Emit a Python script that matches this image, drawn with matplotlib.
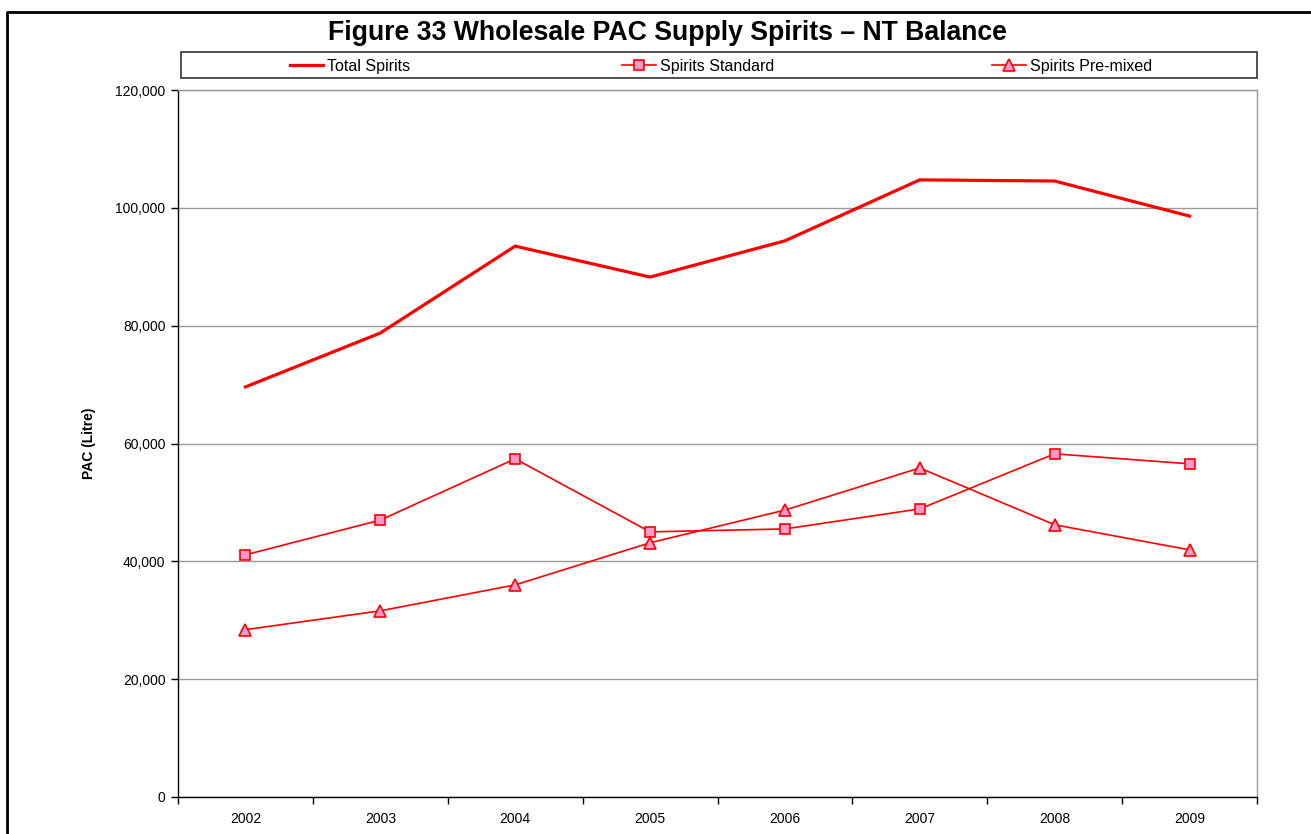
import matplotlib.pyplot as plt
from matplotlib.patches import Rectangle
from matplotlib.lines import Line2D

plt.rcParams['font.family'] = ['Liberation Sans', 'DejaVu Sans']

# Wholesale PAC supply, litres
years = ['2002', '2003', '2004', '2005', '2006', '2007', '2008', '2009']
total_spirits = [69600, 78750, 93500, 88250, 94400, 104750, 104550, 98600]
spirits_standard = [41100, 47000, 57400, 45000, 45500, 48900, 58250, 56550]
spirits_premixed = [28400, 31600, 36000, 43150, 48700, 55850, 46200, 41950]

RED = '#FF0000'
PINK = '#FF99CC'

fig = plt.figure(figsize=(13.11, 8.34), dpi=100)
ax = fig.add_axes([178 / 1311, 1 - 797 / 834, (1257 - 178) / 1311, (797 - 90) / 834])

x = list(range(len(years)))
ax.plot(x, total_spirits, color=RED, lw=2.3, label='Total Spirits')
ax.plot(x, spirits_standard, color=RED, lw=1.2, marker='s', ms=7,
        mfc=PINK, mec=RED, mew=1.2, label='Spirits Standard')
ax.plot(x, spirits_premixed, color=RED, lw=1.2, marker='^', ms=8,
        mfc=PINK, mec=RED, mew=1.2, label='Spirits Pre-mixed')

ax.set_xlim(-0.5, len(years) - 0.5)
ax.set_ylim(0, 120000)
ax.set_yticks(range(0, 120001, 20000))
ax.set_yticklabels([f'{v:,}' for v in range(0, 120001, 20000)], fontsize=10)
ax.set_xticks(x)
ax.set_xticklabels(years, fontsize=10)
ax.tick_params(axis='x', length=0, pad=11)
ax.set_xticks([i - 0.5 for i in range(len(years) + 1)], minor=True)
ax.tick_params(axis='x', which='minor', length=5, direction='out', width=1)
ax.tick_params(axis='y', length=5, direction='out', width=1, pad=4)

ax.yaxis.grid(True, color='#999999', lw=1)
ax.set_axisbelow(True)
for s in ['top', 'right']:
    ax.spines[s].set_color('#999999')
    ax.spines[s].set_linewidth(1)
for s in ['left', 'bottom']:
    ax.spines[s].set_color('black')
    ax.spines[s].set_linewidth(1)

ax.set_ylabel('PAC (Litre)', fontsize=10, fontweight='bold', labelpad=14)

fig.text(667 / 1311, 1 - 33 / 834, 'Figure 33 Wholesale PAC Supply Spirits \u2013 NT Balance',
         ha='center', va='center', fontsize=19.2, fontweight='bold')

# legend frame and three centred entries
fig.patches.append(Rectangle((181 / 1311, 1 - 78 / 834), (1257 - 181) / 1311, 26 / 834,
                             transform=fig.transFigure, fill=False, ec='#333333', lw=1.2))
handles, labels = ax.get_legend_handles_labels()
centers = [350, 698, 1072]
for h, l, cx in zip(handles, labels, centers):
    fig.legend([h], [l], loc='center', bbox_to_anchor=(cx / 1311, 1 - 66 / 834),
               frameon=False, fontsize=11.5, handlelength=2.1, handletextpad=0.25,
               borderpad=0, borderaxespad=0)

# outer chart border
fig.lines.append(Line2D([7 / 1311, 7 / 1311, 1.01], [-0.01, 1 - 12 / 834, 1 - 12 / 834],
                        transform=fig.transFigure, color='black', lw=2))

fig.savefig('out.png', dpi=100)
